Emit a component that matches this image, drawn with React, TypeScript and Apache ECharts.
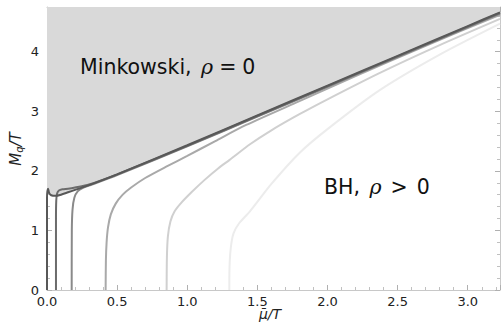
import React, { useEffect, useRef } from "react";
import * as echarts from "echarts";

const xTickLabels = ["0.0", "0.5", "1.0", "1.5", "2.0", "2.5", "3.0"];
const yTickLabels = ["0", "1", "2", "3", "4"];

// Minkowski boundary (upper edge of BH region)
const boundaryX = [0, 0.02, 0.05, 0.1, 0.15, 0.2, 0.3, 0.5, 0.75, 1.0, 1.5, 2.0, 2.5, 3.0, 3.23];
const boundaryY = [1.62, 1.59, 1.58, 1.6, 1.64, 1.68, 1.76, 1.94, 2.18, 2.43, 2.93, 3.43, 3.93, 4.43, 4.66];

const curve0X = [0, 0, 0.003, 0.008, 0.015, 0.03, 0.06, 0.1, 0.15, 0.2, 0.3, 0.5, 1.0, 1.5, 2.0, 2.5, 3.0, 3.23];
const curve0Y = [0, 1.55, 1.66, 1.7, 1.63, 1.59, 1.58, 1.6, 1.64, 1.68, 1.76, 1.94, 2.43, 2.93, 3.43, 3.93, 4.43, 4.66];

const curve1X = [0.064, 0.064, 0.066, 0.072, 0.085, 0.11, 0.15, 0.2, 0.3, 0.5, 1.0, 1.5, 2.0, 2.5, 3.0, 3.23];
const curve1Y = [0, 1.2, 1.5, 1.62, 1.67, 1.69, 1.7, 1.72, 1.77, 1.94, 2.42, 2.92, 3.42, 3.92, 4.42, 4.65];

const curve2X = [0.176, 0.177, 0.182, 0.195, 0.22, 0.26, 0.32, 0.5, 1.0, 1.5, 2.0, 2.5, 3.0, 3.23];
const curve2Y = [0, 1.0, 1.35, 1.55, 1.66, 1.72, 1.77, 1.93, 2.41, 2.91, 3.41, 3.91, 4.41, 4.64];

const curve3X = [0.418, 0.42, 0.425, 0.435, 0.455, 0.49, 0.54, 0.6, 0.7, 0.85, 1.0, 1.2, 1.42, 1.8, 2.2, 2.7, 3.23];
const curve3Y = [0, 0.5, 0.8, 1.05, 1.27, 1.45, 1.6, 1.72, 1.88, 2.07, 2.25, 2.5, 2.77, 3.17, 3.59, 4.1, 4.62];

const curve4X = [0.853, 0.855, 0.862, 0.88, 0.91, 0.96, 1.03, 1.12, 1.22, 1.3, 1.45, 1.6, 1.8, 2.0, 2.37, 2.8, 3.23];
const curve4Y = [0, 0.55, 0.9, 1.15, 1.32, 1.47, 1.64, 1.84, 2.04, 2.18, 2.45, 2.68, 2.95, 3.2, 3.64, 4.11, 4.55];

const curve5X = [1.3, 1.301, 1.31, 1.33, 1.37, 1.447, 1.6, 1.8, 2.0, 2.37, 2.8, 3.23];
const curve5Y = [0, 0.35, 0.7, 0.95, 1.12, 1.32, 1.78, 2.3, 2.7, 3.35, 3.95, 4.47];

const curveColors = ["#585858", "#6c6c6c", "#8a8a8a", "#a9a9a9", "#d0d0d0", "#ececec"];

const zip = (xs: number[], ys: number[]) => xs.map((x, i) => [x, ys[i]]);

export default function App() {
  const ref = useRef<HTMLDivElement>(null);
  useEffect(() => {
    if (!ref.current) return;
    const chart = echarts.init(ref.current, null, { renderer: "svg" });
    const font = "DejaVu Sans";
    const curves = [
      zip(curve0X, curve0Y),
      zip(curve1X, curve1Y),
      zip(curve2X, curve2Y),
      zip(curve3X, curve3Y),
      zip(curve4X, curve4Y),
      zip(curve5X, curve5Y),
    ];
    const axisCommon = {
      type: "value" as const,
      axisLine: { show: true, onZero: false, lineStyle: { color: "#c8c8c8", width: 1 } },
      axisTick: { show: true, inside: true, length: 5, lineStyle: { color: "#b0b0b0" } },
      minorTick: { show: true, splitNumber: 5, length: 3, lineStyle: { color: "#c0c0c0" } },
      splitLine: { show: false },
      minorSplitLine: { show: false },
    };
    const mathRich = {
      a: { fontFamily: font, fontSize: 20.5, fill: "#111" },
      b: { fontFamily: "DejaVu Serif", fontStyle: "italic", fontSize: 20.5, fill: "#111", padding: [0, 0, 0, 3] },
      c: { fontFamily: font, fontSize: 20.5, fill: "#111", padding: [0, 6, 0, 6] },
      d: { fontFamily: font, fontSize: 20.5, fill: "#111", padding: [0, 9, 0, 9] },
    };
    const option: any = {
      animation: false,
      backgroundColor: "#ffffff",
      grid: { left: 47, right: 1, top: 7, bottom: 34, containLabel: false, outerBoundsMode: "none" },
      xAxis: [
        {
          ...axisCommon,
          position: "bottom",
          min: 0,
          max: 3.23,
          interval: 0.5,
          axisLabel: {
            show: true,
            showMaxLabel: false,
            formatter: (v: number) => xTickLabels[Math.round(v / 0.5)] ?? "",
            fontFamily: font,
            fontSize: 13,
            color: "#222",
            margin: 5,
          },
        },
        {
          ...axisCommon,
          position: "top",
          min: 0,
          max: 3.23,
          interval: 0.5,
          axisLabel: { show: false },
        },
      ],
      yAxis: [
        {
          ...axisCommon,
          position: "left",
          min: 0,
          max: 4.75,
          interval: 1,
          axisLabel: {
            show: true,
            showMaxLabel: false,
            formatter: (v: number) => yTickLabels[Math.round(v)] ?? "",
            fontFamily: font,
            fontSize: 13,
            color: "#222",
            margin: 8,
          },
        },
        {
          ...axisCommon,
          position: "right",
          min: 0,
          max: 4.75,
          interval: 1,
          axisLabel: { show: false },
        },
      ],
      series: [
        {
          type: "line",
          data: zip(boundaryX, boundaryY),
          showSymbol: false,
          symbol: "none",
          lineStyle: { width: 0, opacity: 0 },
          areaStyle: { origin: "end", color: "#d9d9d9", opacity: 1 },
          z: 1,
          silent: true,
        },
        ...curves
          .map((d, i) => ({
            type: "line",
            data: d,
            showSymbol: false,
            symbol: "none",
            smooth: 0.25,
            lineStyle: { width: 2, color: curveColors[i] },
            z: 10 - i,
            silent: true,
          }))
          .reverse(),
      ],
      graphic: [
        {
          type: "text",
          left: 80,
          top: 56,
          style: { text: "{a|Minkowski, }{b|\u03c1}{c|=}{a|0}", rich: mathRich },
          z: 100,
        },
        {
          type: "text",
          left: 324,
          top: 176,
          style: { text: "{a|BH, }{b|\u03c1}{d|>}{a|0}", rich: mathRich },
          z: 100,
        },
        {
          type: "text",
          x: 270,
          y: 314,
          style: {
            text: "\u03bc\u0304/T",
            fontFamily: font,
            fontStyle: "italic",
            fontSize: 14,
            fill: "#222",
            align: "center",
            verticalAlign: "middle",
          },
          z: 100,
        },
        {
          type: "text",
          x: 16,
          y: 149,
          rotation: Math.PI / 2,
          style: {
            text: "{i|M}{s|q}{i|/T}",
            align: "center",
            verticalAlign: "middle",
            rich: {
              i: { fontFamily: font, fontStyle: "italic", fontSize: 15, fill: "#222" },
              s: { fontFamily: font, fontStyle: "italic", fontSize: 10, fill: "#222", padding: [7, 0, 0, 0] },
            },
          },
          z: 100,
        },
      ],
    };
    chart.setOption(option);
    return () => chart.dispose();
  }, []);
  return <div ref={ref} style={{ width: 501, height: 324, position: "absolute", left: 0, top: 0 }} />;
}
